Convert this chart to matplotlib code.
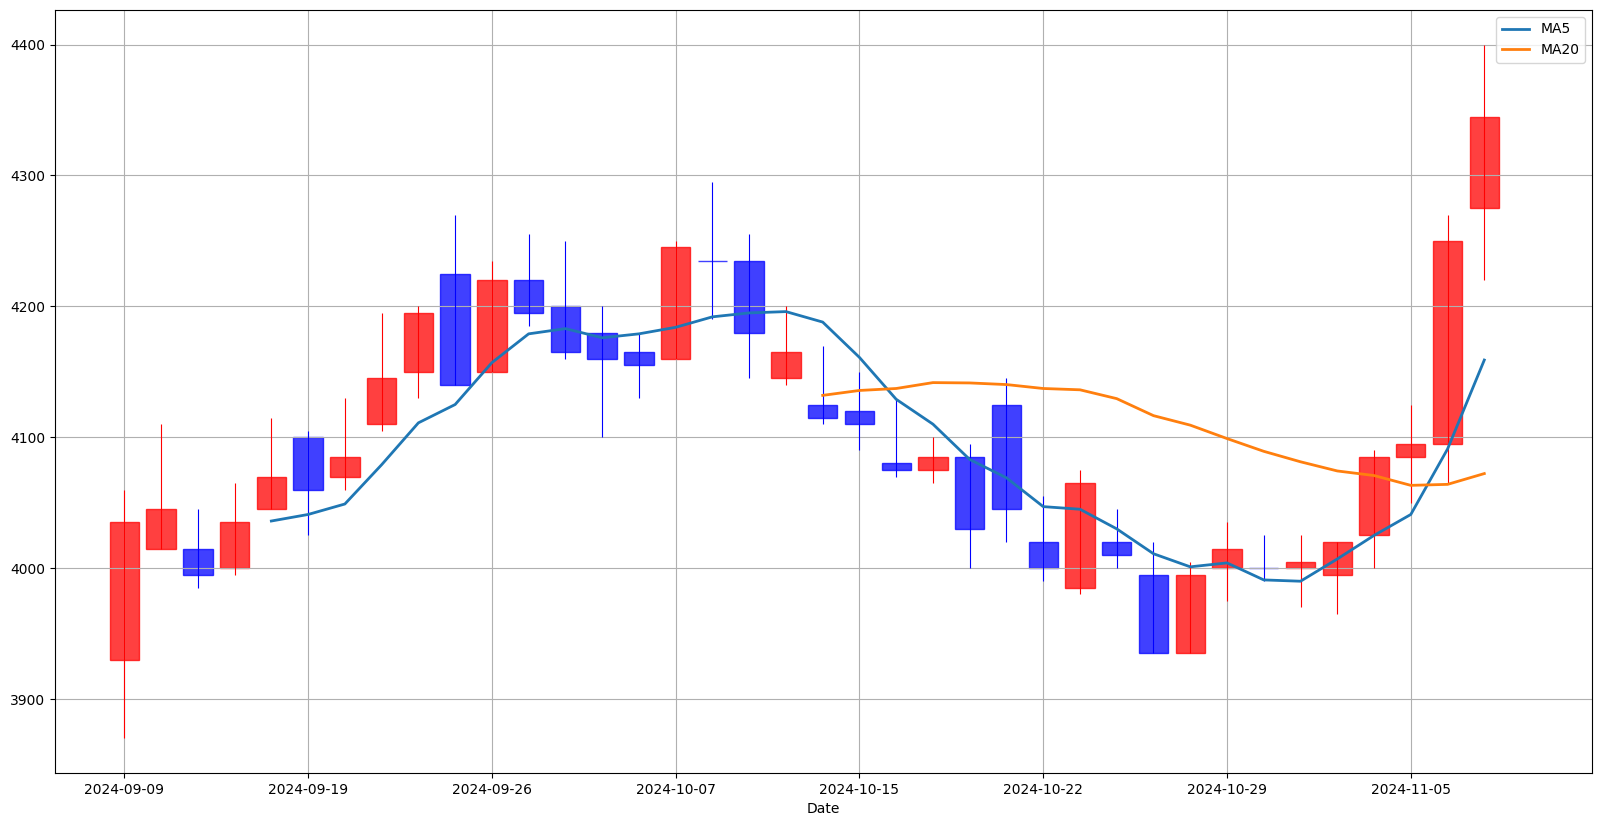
import matplotlib
matplotlib.use('Agg')
import matplotlib.pyplot as plt
import pandas as pd

dates = ['2024-09-09', '2024-09-10', '2024-09-11', '2024-09-12', '2024-09-13',
         '2024-09-19', '2024-09-20', '2024-09-23', '2024-09-24', '2024-09-25',
         '2024-09-26', '2024-09-27', '2024-09-30', '2024-10-02', '2024-10-04',
         '2024-10-07', '2024-10-08', '2024-10-10', '2024-10-11', '2024-10-14',
         '2024-10-15', '2024-10-16', '2024-10-17', '2024-10-18', '2024-10-21',
         '2024-10-22', '2024-10-23', '2024-10-24', '2024-10-25', '2024-10-28',
         '2024-10-29', '2024-10-30', '2024-10-31', '2024-11-01', '2024-11-04',
         '2024-11-05', '2024-11-06', '2024-11-07']
opens = [3930, 4015, 4015, 4000, 4045, 4100, 4070, 4110, 4150, 4225,
         4150, 4220, 4200, 4180, 4165, 4160, 4235, 4235, 4145, 4125,
         4120, 4080, 4075, 4085, 4125, 4020, 3985, 4020, 3995, 3935,
         4000, 4000, 4000, 3995, 4025, 4085, 4095, 4275]
highs = [4060, 4110, 4045, 4065, 4115, 4105, 4130, 4195, 4200, 4270,
         4235, 4255, 4250, 4200, 4180, 4250, 4295, 4255, 4200, 4170,
         4150, 4130, 4100, 4095, 4145, 4055, 4075, 4045, 4020, 4005,
         4035, 4025, 4025, 4020, 4090, 4125, 4270, 4400]
lows = [3870, 4015, 3985, 3995, 4045, 4025, 4060, 4105, 4130, 4140,
        4150, 4185, 4160, 4100, 4130, 4160, 4190, 4145, 4140, 4110,
        4090, 4070, 4065, 4000, 4020, 3990, 3980, 4000, 3935, 3935,
        3975, 3990, 3970, 3965, 4000, 4050, 4065, 4220]
closes = [4035, 4045, 3995, 4035, 4070, 4060, 4085, 4145, 4195, 4140,
          4220, 4195, 4165, 4160, 4155, 4245, 4235, 4180, 4165, 4115,
          4110, 4075, 4085, 4030, 4045, 4000, 4065, 4010, 3935, 3995,
          4015, 4000, 4005, 4020, 4085, 4095, 4250, 4345]

df = pd.DataFrame({'Date': dates, 'Open': opens, 'High': highs, 'Low': lows, 'Close': closes})
df['MA5'] = df['Close'].rolling(5).mean()
df['MA20'] = df['Close'].rolling(20).mean()
x = list(range(len(df)))

fig, ax = plt.subplots(figsize=(16, 8.26), dpi=100)
fig.subplots_adjust(left=0.0344, right=0.995, top=0.988, bottom=0.0642)

for i in x:
    o, h, l, c = df.loc[i, ['Open', 'High', 'Low', 'Close']]
    color = 'red' if c > o else 'blue'
    ax.vlines(i, l, h, color=color, linewidth=0.8)
    ax.bar(i, c - o, bottom=o, width=0.8, color=color, alpha=0.75, edgecolor=color)

ax.plot(x, df['MA5'], label='MA5', linewidth=2)
ax.plot(x, df['MA20'], label='MA20', linewidth=2)

ax.set_xticks(x[::5])
ax.set_xticklabels(df['Date'][::5])
ax.set_xlim(-1.885, 39.93)
ax.set_ylim(3843.5, 4426.5)
ax.set_xlabel('Date')
ax.grid(True)
ax.legend(loc='upper right')

plt.savefig('out.png', dpi=100)
